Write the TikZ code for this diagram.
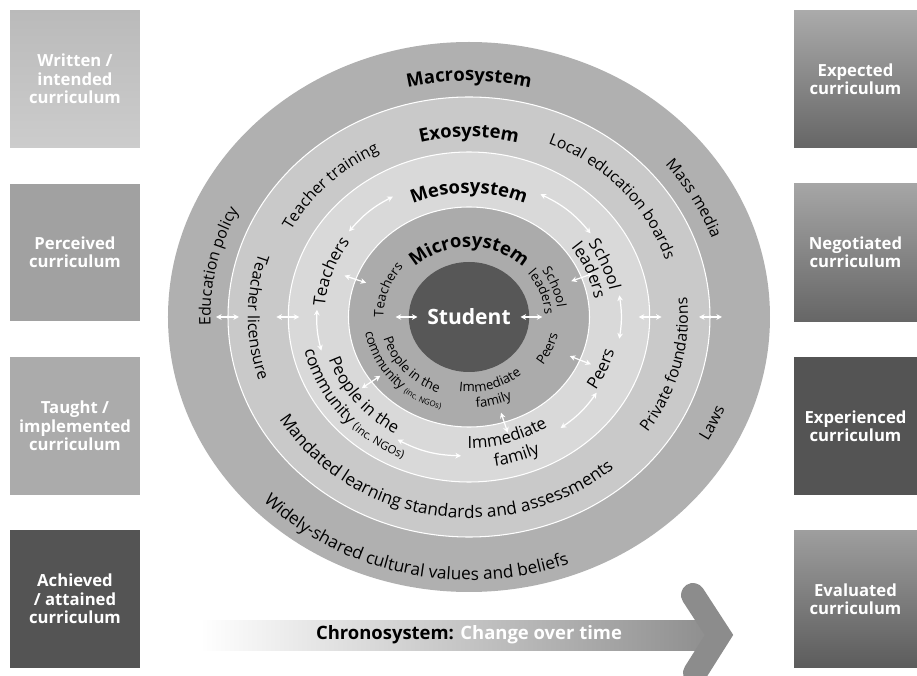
\documentclass[tikz,border=0pt]{standalone}
\usepackage{fontspec}
\setmainfont{Open Sans}
\usetikzlibrary{decorations.text,arrows.meta}

\definecolor{macrogray}{gray}{0.69}
\definecolor{exogray}{gray}{0.79}
\definecolor{mesogray}{gray}{0.85}
\definecolor{microgray}{gray}{0.67}
\definecolor{studentgray}{gray}{0.34}
\definecolor{chronogray}{gray}{0.55}

\newcommand{\boxfont}{\bfseries\fontsize{9.5}{10.5}\selectfont}
\newcommand{\sysfont}{\bfseries\fontsize{10.5}{12}\selectfont}
\newcommand{\outfont}{\fontsize{9}{10}\selectfont}
\newcommand{\widefont}{\fontsize{9.8}{11}\selectfont}
\newcommand{\mesofont}{\fontsize{9.5}{10}\selectfont}
\newcommand{\microfont}{\fontsize{7.5}{8}\selectfont}

\newcommand{\ringtext}[5][]{%
  \pgfmathsetmacro{\rxval}{1.095*#2}%
  \pgfmathsetmacro{\angA}{#3+#4}%
  \pgfmathsetmacro{\angB}{#3-#4}%
  \path[decorate,decoration={text along path,text align=center,text={#5}},#1]
    (\angA:{\rxval} and {#2}) arc[start angle=\angA,end angle=\angB,x radius=\rxval,y radius=#2];}

\tikzset{
  curbox/.style={rectangle,minimum width=2.6cm,minimum height=2.76cm,inner sep=0pt,
    text=white,align=center,font=\boxfont},
  curboxr/.style={curbox,minimum width=2.46cm},
  ring/.style={draw=white,line width=0.6pt},
  wharrow/.style={white,line width=0.7pt,{Stealth[length=3.2pt,width=3.2pt]}-{Stealth[length=3.2pt,width=3.2pt]}},
  chevron/.style={chronogray,line width=0.48cm,line cap=round,line join=miter}
}

\begin{document}
\begin{tikzpicture}[x=0.02cm,y=0.02cm]
\useasboundingbox (-469,-359) rectangle (448,317);

\node[curbox,top color=black!27,bottom color=black!20] (written) at (-394,238) {Written /\\intended\\curriculum};
\node[curbox,fill=black!37] (perceived) at (-394,64.5) {Perceived\\curriculum};
\node[curbox,fill=black!33] (taught) at (-394,-109) {Taught /\\implemented\\curriculum};
\node[curbox,fill=black!67] (achieved) at (-394,-282) {Achieved\\/ attained\\curriculum};
\node[curboxr,top color=black!33,middle color=black!38,bottom color=black!60] (expected) at (386.5,238) {Expected\\curriculum};
\node[curboxr,top color=black!35,middle color=black!40,bottom color=black!60] (negotiated) at (386.5,64.5) {Negotiated\\curriculum};
\node[curboxr,fill=black!67] (experienced) at (386.5,-109) {Experienced\\curriculum};
\node[curboxr,top color=black!38,middle color=black!34,bottom color=black!64] (evaluated) at (386.5,-282) {Evaluated\\curriculum};

\fill[macrogray] (0,0) ellipse[x radius=301,y radius=275];
\path[ring,fill=exogray] (0,0) ellipse[x radius=241,y radius=220];
\path[ring,fill=mesogray] (0,0) ellipse[x radius=180.7,y radius=165];
\path[ring,fill=microgray] (0,0) ellipse[x radius=120.5,y radius=110];
\fill[studentgray] (0,0) ellipse[x radius=60.2,y radius=55];
\node[text=white,font=\bfseries\fontsize{12}{14}\selectfont] (student) at (0,0) {Student};

\ringtext{236}{90}{40}{|\sysfont|Macrosystem}
\ringtext{236}{168}{40}{|\outfont|Education policy}
\ringtext{235}{29}{40}{|\outfont|Mass media}
\ringtext{251}{335}{-30}{|\outfont|Laws}
\ringtext{263}{256.6}{-90}{|\widefont|Widely-shared cultural values and beliefs}

\ringtext{180}{90}{40}{|\sysfont|Exosystem}
\ringtext{184}{135}{40}{|\outfont|Teacher training}
\ringtext{188}{41.6}{45}{|\outfont|Local education boards}
\ringtext{202}{180}{-40}{|\outfont|Teacher licensure}
\ringtext{200}{345.6}{-45}{|\outfont|Private foundations}
\ringtext{201}{260.5}{-90}{|\widefont|Mandated learning standards and assessments}

\ringtext{124}{90}{70}{|\sysfont|Mesosystem}
\ringtext{132}{161}{40}{|\mesofont|Teachers}
\ringtext{131}{22}{40}{|\mesofont|School}
\ringtext{116}{22}{40}{|\mesofont|leaders}
\ringtext{137}{337.5}{-40}{|\mesofont|Peers}
\ringtext{131}{287}{-45}{|\mesofont|Immediate}
\ringtext{151}{288}{-45}{|\mesofont|family}
\ringtext{135}{218}{-50}{|\mesofont|People in the}
\ringtext{154}{218.5}{-55}{|\mesofont|community |\fontsize{6.5}{7}\selectfont|(inc. NGOs)}

\ringtext{70}{90}{80}{|\sysfont|Microsystem}
\ringtext{78}{160.6}{40}{|\microfont|Teachers}
\ringtext{81}{20}{40}{|\microfont|School}
\ringtext{69}{20}{40}{|\microfont|leaders}
\ringtext{83}{337}{-40}{|\microfont|Peers}
\ringtext{75}{287}{-50}{|\microfont|Immediate}
\ringtext{91}{285.6}{-50}{|\microfont|family}
\ringtext{81}{221}{-60}{|\microfont|People in the}
\ringtext{96}{220.5}{-60}{|\microfont|community |\fontsize{4.5}{5}\selectfont|(inc. NGOs)}

\coordinate (sw1) at (-51.5,0);
\coordinate (sw2) at (-73.4,0);
\coordinate (se1) at (51.5,0);
\coordinate (se2) at (73.4,0);
\coordinate (mt1) at (160:109.5 and 100);
\coordinate (mt2) at (160:132.5 and 121);
\coordinate (ms1) at (21:109.5 and 100);
\coordinate (ms2) at (21:132.5 and 121);
\coordinate (mp1) at (337:109.5 and 100);
\coordinate (mp2) at (337:132.5 and 121);
\coordinate (mf1) at (287:109.5 and 100);
\coordinate (mf2) at (287:132.5 and 121);
\coordinate (mc1) at (216:109.5 and 100);
\coordinate (mc2) at (216:132.5 and 121);
\coordinate (ew1) at (-169.7,0);
\coordinate (ew2) at (-192.7,0);
\coordinate (ee1) at (169.7,0);
\coordinate (ee2) at (192.7,0);
\coordinate (xw1) at (-230,0);
\coordinate (xw2) at (-253,0);
\coordinate (xe1) at (230,0);
\coordinate (xe2) at (253,0);
\path[wharrow]
  (sw1) edge (sw2)
  (se1) edge (se2)
  (mt1) edge (mt2)
  (ms1) edge (ms2)
  (mp1) edge (mp2)
  (mf1) edge (mf2)
  (mc1) edge (mc2)
  (ew1) edge (ew2)
  (ee1) edge (ee2)
  (xw1) edge (xw2)
  (xe1) edge (xe2);

\coordinate (c1a) at (120:152.2 and 139);
\coordinate (c1b) at (142:152.2 and 139);
\coordinate (c2a) at (37:152.2 and 139);
\coordinate (c2b) at (62:152.2 and 139);
\coordinate (c3a) at (-9:152.2 and 139);
\coordinate (c3b) at (9:152.2 and 139);
\coordinate (c4a) at (307:152.2 and 139);
\coordinate (c4b) at (327:152.2 and 139);
\coordinate (c5a) at (242:152.2 and 139);
\coordinate (c5b) at (267:152.2 and 139);
\coordinate (c6a) at (177:152.2 and 139);
\coordinate (c6b) at (194:152.2 and 139);
\path[wharrow]
  (c1a) edge[bend right=11] (c1b)
  (c2a) edge[bend right=12.5] (c2b)
  (c3a) edge[bend right=9] (c3b)
  (c4a) edge[bend right=10] (c4b)
  (c5a) edge[bend right=12.5] (c5b)
  (c6a) edge[bend right=8.5] (c6b);

\shade[left color=white,right color=chronogray] (-269,-303) rectangle (250,-333);
\coordinate (chvtop) at (224,-278);
\coordinate (chvtip) at (250,-318);
\coordinate (chvbot) at (226,-356);
\draw[chevron] (chvtop) -- (chvtip) -- (chvbot);
\node[font=\sysfont] (chrono) at (0,-318) {Chronosystem: \textcolor{white}{Change over time}};
\end{tikzpicture}
\end{document}
